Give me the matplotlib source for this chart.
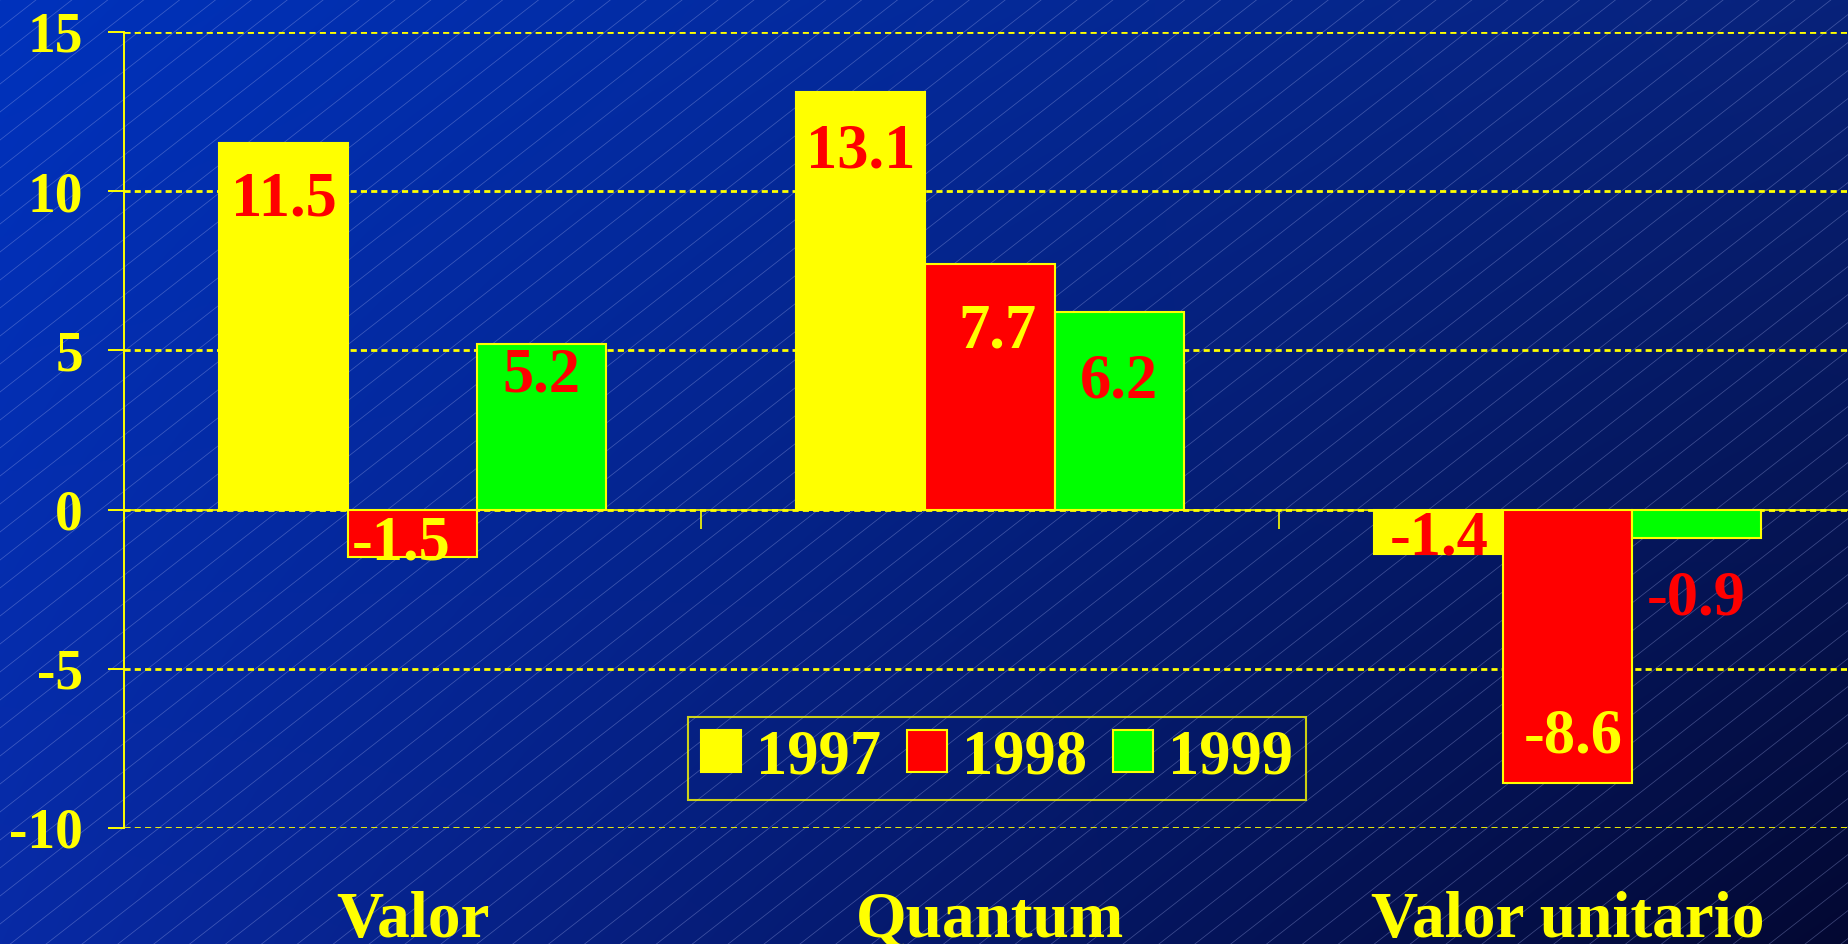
import numpy as np
import matplotlib.pyplot as plt
import matplotlib.transforms as mtransforms

plt.rcParams['font.family'] = ['Liberation Serif', 'DejaVu Serif']
plt.rcParams['font.weight'] = 'bold'
plt.rcParams['axes.unicode_minus'] = False

# data
categories = ["Valor", "Quantum", "Valor unitario"]
years = ["1997", "1998", "1999"]
v1997 = [11.5, 13.1, -1.4]
v1998 = [-1.5, 7.7, -8.6]
v1999 = [5.2, 6.2, -0.9]

series = [v1997, v1998, v1999]
bar_colors = ['#ffff00', '#ff0000', '#00ff00']
label_colors = ['#ff0000', '#ffff00', '#ff0000']
# label baseline offsets (px, relative to the bar end), per series then category
label_dy = [[-72, -75, 0], [-2, -83, 31], [-47, -85, -76]]
label_dx = [[0, 0, 1], [-12, 7, 6], [0, 0, 0]]

W, H = 1849, 944
fig = plt.figure(figsize=(W / 100, H / 100), dpi=100)

# background: diagonal gradient with thin hatch lines
bg = fig.add_axes([0, 0, 1, 1], zorder=0)
tl = np.array([0, 50, 188]) / 255
tr = np.array([8, 34, 122]) / 255
bl = np.array([8, 42, 165]) / 255
br = np.array([3, 8, 50]) / 255
u = np.linspace(0, 1, 400)[None, :, None]
v = np.linspace(0, 1, 200)[:, None, None]
grad = (1 - v) * ((1 - u) * tl + u * tr) + v * ((1 - u) * bl + u * br)
bg.imshow(grad, extent=[0, W, H, 0], aspect='auto', interpolation='bilinear')
slope = 0.78
for c in np.arange(0, H + slope * W + 30, 28):
    bg.plot([0, W], [c, c - slope * W], color='#a8b4f0', lw=0.55, alpha=0.35)
bg.set_xlim(0, W)
bg.set_ylim(H, 0)
bg.axis('off')

# main axes
ax = fig.add_axes([124 / W, (H - 828) / H, 1732 / W, 796 / H], zorder=1)
ax.patch.set_alpha(0)

x = np.arange(len(categories))
bw = 0.2235
for i, vals in enumerate(series):
    pos = x + (i - 1) * bw
    ax.bar(pos, vals, width=bw, color=bar_colors[i], edgecolor='#ffff00',
           linewidth=1.5, zorder=3, label=years[i])
    for j, val in enumerate(vals):
        ax.annotate(f"{val:.1f}", (pos[j], val), xytext=(label_dx[i][j], label_dy[i][j]),
                    textcoords='offset pixels', ha='center', va='baseline',
                    fontsize=45, fontweight='bold', color=label_colors[i], zorder=5)

ax.set_xlim(-0.5, 2.5)
ax.set_ylim(-10, 15)
ax.set_yticks([-10, -5, 0, 5, 10, 15])
ax.yaxis.grid(True, color='#ffff00', linestyle=(0, (2.2, 1.5)), linewidth=2.0, zorder=1)
ax.set_axisbelow(True)
ax.tick_params(axis='y', colors='#ffff00', labelsize=40, length=11.5, width=1.4, pad=18)
for lab in ax.get_yticklabels():
    lab.set_fontweight('bold')

ax.spines['top'].set_visible(False)
ax.spines['right'].set_visible(False)
ax.spines['left'].set_color('#ffff00')
ax.spines['left'].set_linewidth(1.4)
ax.spines['bottom'].set_position(('data', 0))
ax.spines['bottom'].set_color('#ffff00')
ax.spines['bottom'].set_linewidth(1.2)
ax.spines['bottom'].set_zorder(4)
ax.set_xticks([0.5, 1.5])
ax.set_xticklabels([])
ax.tick_params(axis='x', colors='#ffff00', length=14, width=1.2, direction='out')

# category labels under the plot
trans = mtransforms.blended_transform_factory(ax.transData, fig.transFigure)
for j, cat in enumerate(categories):
    ax.text(x[j], 7 / H, cat, transform=trans, ha='center', va='baseline',
            fontsize=47, fontweight='bold', color='#ffff00')

leg = ax.legend(loc='center', bbox_to_anchor=(997 / W, 1 - 758 / H), bbox_transform=fig.transFigure,
                ncol=3, frameon=True, fontsize=45, handlelength=0.64, handleheight=0.64,
                handletextpad=0.24, columnspacing=0.42, borderpad=0.2, borderaxespad=0,
                fancybox=False)
leg.get_frame().set_facecolor('none')
leg.get_frame().set_edgecolor('#ffff00')
leg.get_frame().set_linewidth(1.5)
for t in leg.get_texts():
    t.set_color('#ffff00')
    t.set_fontweight('bold')

fig.savefig('out.png', dpi=100)
